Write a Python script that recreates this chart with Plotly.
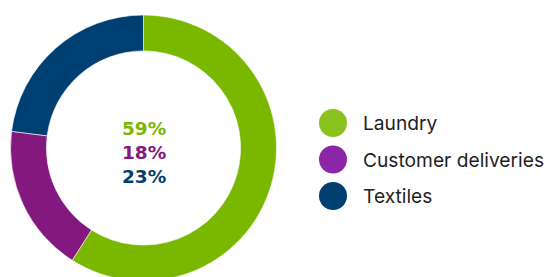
import plotly.graph_objects as go

categories = ["Laundry", "Customer deliveries", "Textiles"]
values = [59, 18, 23]
ring_colors = ["#7AB800", "#83187E", "#003F71"]
legend_colors = ["#8CC21F", "#8B27A6", "#003F71"]
center_labels = ["59%", "18%", "23%"]

W, H = 544, 296

fig = go.Figure()

fig.add_trace(go.Pie(
    labels=categories,
    values=values,
    sort=False,
    direction="clockwise",
    rotation=0,
    hole=0.73,
    marker=dict(colors=ring_colors, line=dict(color="#ffffff", width=0.6)),
    textinfo="none",
    hoverinfo="label+percent",
    showlegend=False,
    domain=dict(x=[10.5 / W, 276.5 / W], y=[15 / H, 281 / H]),
))

# custom legend with large round markers
fig.add_trace(go.Scatter(
    x=[0] * len(categories),
    y=list(range(len(categories))),
    mode="markers",
    marker=dict(size=28, color=legend_colors, line=dict(width=0)),
    showlegend=False,
    hoverinfo="skip",
    cliponaxis=False,
))
for i, name in enumerate(categories):
    fig.add_annotation(
        x=28, y=i, xref="x", yref="y", text=name, showarrow=False,
        xanchor="left", yanchor="middle",
        font=dict(family="Inter", size=19.2, color="#1f1f1f"),
    )

# center text, one line per slice
for i, (t, c) in enumerate(zip(center_labels, ring_colors)):
    fig.add_annotation(
        x=143.5 / W, y=1 - (128 + 24 * i) / H, xref="paper", yref="paper",
        text=f"<b>{t}</b>", showarrow=False,
        xanchor="center", yanchor="middle",
        font=dict(family="DejaVu Sans", size=18.5, color=c),
    )

fig.update_layout(
    width=W, height=H,
    margin=dict(l=0, r=0, t=0, b=0),
    paper_bgcolor="white", plot_bgcolor="white",
    xaxis=dict(visible=False, range=[-333, W - 333], fixedrange=True),
    yaxis=dict(visible=False, range=[(H - 123) / 36.5, -123 / 36.5], fixedrange=True),
)

fig.write_html(
    "out.html",
    config=dict(displayModeBar=False),
    post_script="document.body.style.overflow='hidden';document.documentElement.style.overflow='hidden';document.body.style.margin='0';",
)
